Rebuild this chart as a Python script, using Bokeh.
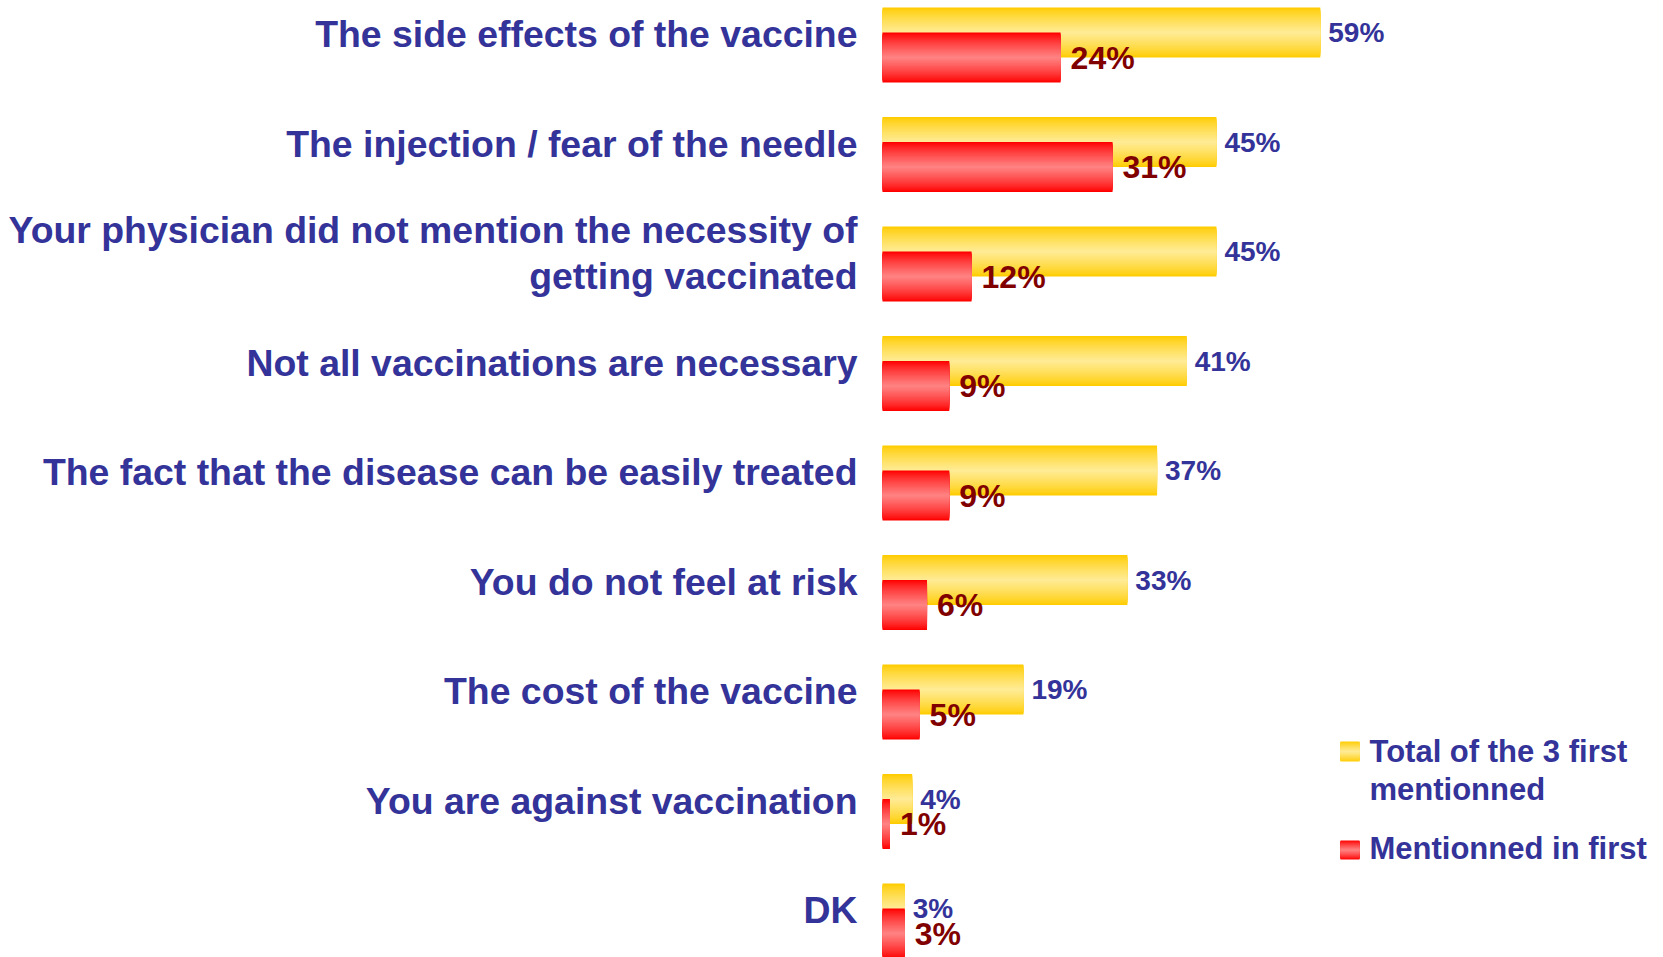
from bokeh.plotting import figure
from bokeh.models import ColumnDataSource
from bokeh.core.properties import value
from bokeh.embed import file_html
from bokeh.resources import INLINE

# ---------------- data ----------------
categories = [
    "The side effects of the vaccine",
    "The injection / fear of the needle",
    "Your physician did not mention the necessity of\ngetting vaccinated",
    "Not all vaccinations are necessary",
    "The fact that the disease can be easily treated",
    "You do not feel at risk",
    "The cost of the vaccine",
    "You are against vaccination",
    "DK",
]
total_3_first = [59, 45, 45, 41, 37, 33, 19, 4, 3]
mentioned_first = [24, 31, 12, 9, 9, 6, 5, 1, 3]
series_names = ["Total of the 3 first\nmentionned", "Mentionned in first"]

# ---------------- layout helpers ----------------
W, H = 1663, 957
PX_PER_PCT = 7.42
X0_PAGE = 882.0
SLOT = 109.5
C0_PAGE = 44.5
n = len(categories)


def px2x(px):
    return (px - X0_PAGE) / PX_PER_PCT


def py2y(py):
    return (n - 1) - (py - C0_PAGE) / SLOT


BLUE = "#333399"
DARKRED = "#800000"
FONT = value("Liberation Sans")

p = figure(width=W, height=H, output_backend="svg", toolbar_location=None,
           x_range=(px2x(0), px2x(W)), y_range=(py2y(H), py2y(0)),
           min_border=0, outline_line_color=None)
p.xaxis.visible = False
p.yaxis.visible = False
p.grid.visible = False
p.background_fill_color = "white"
p.border_fill_color = "white"

NSTRIP = 20


def mix(c1, c2, t):
    return "#%02x%02x%02x" % tuple(int(round(a + (b - a) * t)) for a, b in zip(c1, c2))


YEL_EDGE, YEL_MID = (255, 204, 0), (255, 236, 153)
RED_EDGE, RED_MID = (255, 0, 0), (255, 134, 134)


def gradient_rects(lefts, rights, bottoms, tops, edge, mid):
    # nested rectangles, each inside the previous one: a seamless vertical gradient
    L, R, B, T, C = [], [], [], [], []
    for l, r, b, t in zip(lefts, rights, bottoms, tops):
        cy, hh = (b + t) / 2, (t - b) / 2
        for k in range(NSTRIP):
            f = k / NSTRIP
            s = hh * (1 - f)
            L.append(l)
            R.append(r)
            B.append(cy - s)
            T.append(cy + s)
            C.append(mix(edge, mid, f ** 0.8))
    return dict(left=L, right=R, bottom=B, top=T, color=C)


ypos = [(n - 1) - i for i in range(n)]

# yellow bars (total of the 3 first)
ysrc = ColumnDataSource(gradient_rects(
    [0] * n, total_3_first,
    [c - 12.5 / SLOT for c in ypos],
    [c + 37.5 / SLOT for c in ypos], YEL_EDGE, YEL_MID))
p.quad(left="left", right="right", bottom="bottom", top="top", color="color",
       line_color=None, source=ysrc)

# red bars (mentioned first)
rsrc = ColumnDataSource(gradient_rects(
    [0] * n, mentioned_first,
    [c - 37.5 / SLOT for c in ypos],
    [c + 12.5 / SLOT for c in ypos], RED_EDGE, RED_MID))
p.quad(left="left", right="right", bottom="bottom", top="top", color="color",
       line_color=None, source=rsrc)

# value labels
p.text(x=[v + 8 / PX_PER_PCT for v in total_3_first],
       y=[c + 12.5 / SLOT for c in ypos],
       text=[f"{v}%" for v in total_3_first],
       text_font=FONT, text_font_style="bold", text_font_size="28px",
       text_color=BLUE, text_baseline="middle", text_align="left")
p.text(x=[v + 10 / PX_PER_PCT for v in mentioned_first],
       y=[c - 12.5 / SLOT for c in ypos],
       text=[f"{v}%" for v in mentioned_first],
       text_font=FONT, text_font_style="bold", text_font_size="32px",
       text_color=DARKRED, text_baseline="middle", text_align="left")

# category labels
p.text(x=[px2x(857)] * n, y=[c + 11 / SLOT for c in ypos], text=categories,
       text_font=FONT, text_font_style="bold", text_font_size="37.4px",
       text_color=BLUE, text_baseline="middle", text_align="right",
       text_line_height=1.1)

# legend
lsrc_y = gradient_rects([px2x(1340)], [px2x(1359)], [py2y(761)], [py2y(741)], YEL_EDGE, YEL_MID)
lsrc_r = gradient_rects([px2x(1340)], [px2x(1359)], [py2y(859)], [py2y(840)], RED_EDGE, RED_MID)
p.quad(left="left", right="right", bottom="bottom", top="top", color="color",
       line_color=None, source=ColumnDataSource(lsrc_y))
p.quad(left="left", right="right", bottom="bottom", top="top", color="color",
       line_color=None, source=ColumnDataSource(lsrc_r))
p.text(x=[px2x(1369)] * 2, y=[py2y(770), py2y(848)], text=series_names,
       text_font=FONT, text_font_style="bold", text_font_size="31px",
       text_color=BLUE, text_baseline="middle", text_align="left",
       text_line_height=1.08)

open("out.html", "w").write(file_html(p, INLINE))
